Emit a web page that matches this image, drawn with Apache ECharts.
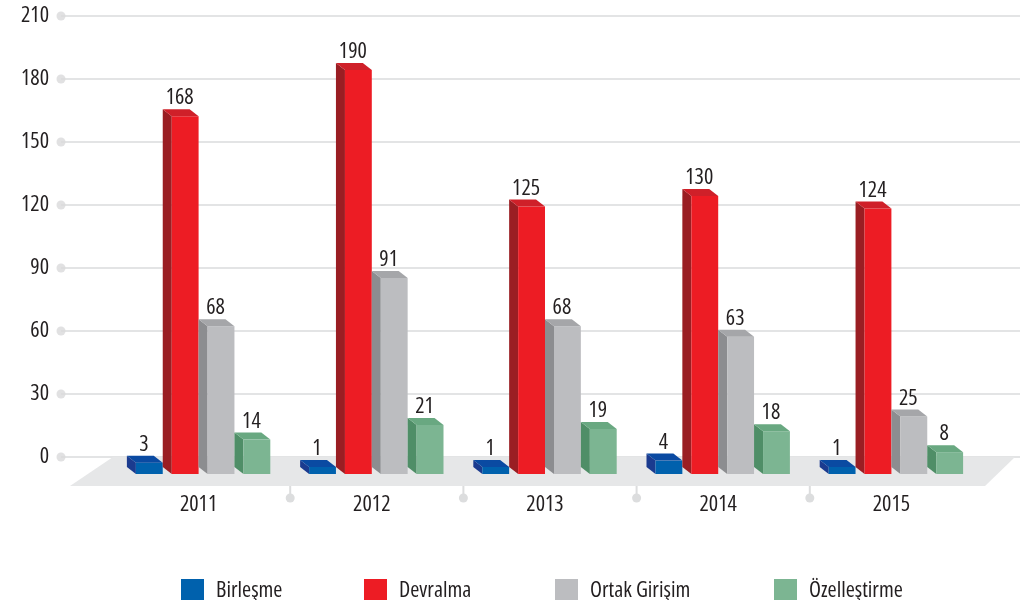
<!DOCTYPE html>
<html>
<head>
<meta charset="utf-8">
<script src="https://cdn.jsdelivr.net/npm/echarts@6/dist/echarts.min.js"></script>
<style>
html,body{margin:0;padding:0;background:#fff;}
#c{width:1024px;height:600px;}
</style>
</head>
<body>
<div id="c"></div>
<script>
const categories = ['2011', '2012', '2013', '2014', '2015'];
const seriesNames = ['Birleşme', 'Devralma', 'Ortak Girişim', 'Özelleştirme'];
const birlesme = [3, 1, 1, 4, 1];
const devralma = [168, 190, 125, 130, 124];
const ortakGirisim = [68, 91, 68, 63, 25];
const ozellestirme = [14, 21, 19, 18, 8];
const yMin = 0, yMax = 210, yInterval = 30;

const FONT = '"Open Sans", sans-serif';
const STRETCH = 'semi-condensed';
const FS = 22;
const TXT = '#231f20';
const palette = [
  { front: '#0061ad', side: '#1b3b8f', top: '#0a4aa2' },
  { front: '#ed1c24', side: '#9a1e23', top: '#cf2029' },
  { front: '#bcbdc0', side: '#8c8d90', top: '#a5a6a9' },
  { front: '#7cb592', side: '#4f8e67', top: '#69a881' }
];
const allValues = [birlesme, devralma, ortakGirisim, ozellestirme];

const tickValues = [];
for (let t = yMin; t <= yMax; t += yInterval) tickValues.push(t);

const chart = echarts.init(document.getElementById('c'), null, { renderer: 'canvas' });

function barRenderer(s) {
  return function (params, api) {
    const i = api.value(0), v = api.value(1);
    const c = api.coord([i, v]);
    const base = api.coord([i, 0]);
    const band = api.size([1, 0])[0];
    const slot = band * 0.207;
    const dx = 9, dy = 7;
    const sl = base[0] - 2 * slot + s * slot;
    const fl = sl + dx, fr = sl + slot;
    const top = c[1] + 12;
    const bottom = base[1] + 17;
    const col = palette[s];
    return {
      type: 'group',
      children: [
        { type: 'polygon', shape: { points: [[fl - dx, top - dy], [fl, top], [fl, bottom], [fl - dx, bottom - dy]] }, style: { fill: col.side } },
        { type: 'rect', shape: { x: fl, y: top, width: fr - fl, height: bottom - top }, style: { fill: col.front } },
        { type: 'polygon', shape: { points: [[fl, top], [fr, top], [fr - dx, top - dy], [fl - dx, top - dy]] }, style: { fill: col.top } },
        { type: 'text', style: { text: String(v), x: (fl + fr) / 2 - dx / 2 - 1, y: top - dy, align: 'center', verticalAlign: 'bottom', fontStyle: STRETCH, fontSize: FS, fontFamily: FONT, fill: TXT } }
      ]
    };
  };
}

function floorRenderer(params, api) {
  const band = api.size([1, 0])[0];
  const first = api.coord([0, 0]);
  const last = api.coord([categories.length - 1, 0]);
  const left = first[0] - band / 2, right = last[0] + band / 2;
  const y0 = first[1];
  const children = [
    { type: 'polygon', shape: { points: [[left + 1, y0], [right + 37, y0], [right + 7, y0 + 29], [left - 42, y0 + 29]] }, style: { fill: '#e6e7e8' } }
  ];
  for (let k = 1; k < categories.length; k++) {
    const x = api.coord([k, 0])[0] - band / 2 + 5;
    children.push({ type: 'line', shape: { x1: x, y1: y0 + 29, x2: x, y2: y0 + 40 }, style: { stroke: '#dcddde', lineWidth: 2 } });
    children.push({ type: 'circle', shape: { cx: x, cy: y0 + 41, r: 4.5 }, style: { fill: '#dcddde' } });
  }
  return { type: 'group', children: children };
}

const legendLefts = [176, 359, 550, 769];

const option = {
  animation: false,
  backgroundColor: '#fff',
  grid: [
    { left: 61, right: 4, top: 16, bottom: 143 },
    { left: 112, right: 46, top: 16, bottom: 143 }
  ],
  xAxis: [
    { gridIndex: 0, type: 'value', min: 0, max: 1, show: false },
    {
      gridIndex: 1, type: 'category', data: categories,
      axisLine: { show: false }, axisTick: { show: false },
      axisLabel: { margin: 37, fontSize: FS, fontStyle: STRETCH, fontFamily: FONT, color: TXT }
    }
  ],
  yAxis: [
    {
      gridIndex: 0, type: 'value', min: yMin, max: yMax, interval: yInterval,
      axisLine: { show: false }, axisTick: { show: false },
      axisLabel: { margin: 12, fontSize: FS, fontStyle: STRETCH, fontFamily: FONT, color: TXT },
      splitLine: { lineStyle: { color: '#e3e4e5', width: 2 } }
    },
    { gridIndex: 1, type: 'value', min: yMin, max: yMax, interval: yInterval, show: false }
  ],
  legend: seriesNames.map((n, k) => ({
    data: [n], left: legendLefts[k], top: 574,
    itemWidth: 23, itemHeight: 23, icon: 'rect',
    textStyle: { fontSize: FS, fontStyle: STRETCH, fontFamily: FONT, color: TXT, padding: [0, 0, 0, 7] },
    selectedMode: false
  })),
  series: [
    {
      type: 'scatter', xAxisIndex: 0, yAxisIndex: 0, silent: true,
      data: tickValues.map(t => [0, t]), symbolSize: 9,
      itemStyle: { color: '#d9dadb' }, z: 3
    },
    {
      type: 'custom', name: 'floor', xAxisIndex: 1, yAxisIndex: 1, silent: true,
      data: [[0, 0]], renderItem: floorRenderer, clip: false, z: 1
    }
  ].concat(allValues.map((vals, s) => ({
    type: 'custom', name: seriesNames[s], xAxisIndex: 1, yAxisIndex: 1,
    data: vals.map((v, i) => [i, v]),
    renderItem: barRenderer(s), clip: false, z: 5,
    itemStyle: { color: palette[s].front },
    encode: { x: 0, y: 1 }
  })))
};
chart.setOption(option);
</script>
</body>
</html>
